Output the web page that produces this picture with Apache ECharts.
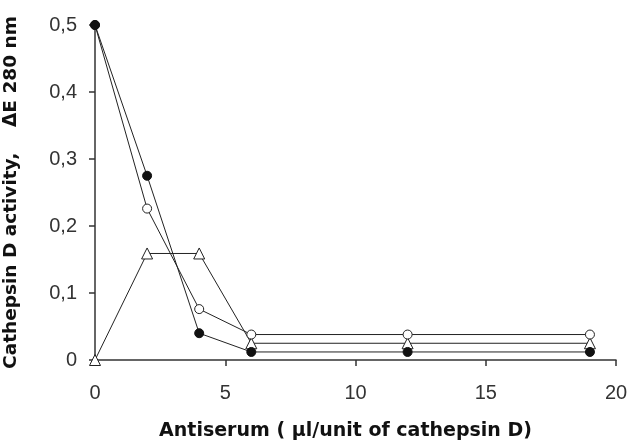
<!DOCTYPE html>
<html><head><meta charset="utf-8">
<script src="https://cdn.jsdelivr.net/npm/echarts@6/dist/echarts.min.js"></script>
<style>html,body{margin:0;padding:0;background:#fff}#c{width:628px;height:448px}</style>
</head><body><div id="c"></div>
<script>
const xValues = [0, 2, 4, 6, 12, 19];
const filledCircle = [0.5, 0.275, 0.04, 0.012, 0.012, 0.012];
const openCircle = [0.5, 0.226, 0.076, 0.038, 0.038, 0.038];
const triangle = [0, 0.159, 0.159, 0.025, 0.025, 0.025];
const xTicks = [0, 5, 10, 15, 20];
const yTicks = [0, 0.1, 0.2, 0.3, 0.4, 0.5];
const xTitle = 'Antiserum ( µl/unit of cathepsin D)';
const yTitle = 'Cathepsin D activity,    ΔE 280 nm';

const pairs = a => xValues.map((x, i) => [x, a[i]]);
const fmt = v => v === 0 ? '0' : String(Math.round(v * 10) / 10).replace('.', ',');
const axisCol = '#333';
const chart = echarts.init(document.getElementById('c'), null, {renderer: 'canvas'});
const lineStyle = {color: '#222', width: 1};
chart.setOption({
  animation: false,
  backgroundColor: '#fff',
  grid: {left: 95, right: 12, top: 25, bottom: 88, containLabel: false, outerBoundsMode: 'none'},
  xAxis: {
    type: 'value', min: xTicks[0], max: xTicks[xTicks.length - 1], interval: 5,
    axisLine: {lineStyle: {color: axisCol, width: 1.5}},
    axisTick: {show: true, length: 6, lineStyle: {color: axisCol, width: 1.5}},
    splitLine: {show: false},
    axisLabel: {fontFamily: 'Liberation Sans', fontSize: 20, color: '#333', margin: 23},
    name: xTitle, nameLocation: 'middle', nameGap: 62,
    nameTextStyle: {fontFamily: 'DejaVu Sans', fontWeight: 'bold', fontSize: 19, color: '#111', padding: [0, 20, 0, 0]}
  },
  yAxis: {
    type: 'value', min: yTicks[0], max: yTicks[yTicks.length - 1], interval: 0.1,
    axisLine: {show: true, lineStyle: {color: axisCol, width: 1.5}},
    axisTick: {show: true, length: 6, lineStyle: {color: axisCol, width: 1.5}},
    splitLine: {show: false},
    axisLabel: {fontFamily: 'Liberation Sans', fontSize: 20, color: '#333', margin: 18, formatter: fmt},
    name: yTitle, nameLocation: 'middle', nameGap: 74, nameRotate: 90,
    nameTextStyle: {fontFamily: 'DejaVu Sans', fontWeight: 'bold', fontSize: 18.5, color: '#111'}
  },
  series: [
    {type: 'line', data: pairs(triangle), symbol: 'triangle', symbolSize: 11,
     lineStyle, itemStyle: {color: '#fff', borderColor: '#222', borderWidth: 1}, z: 2},
    {type: 'line', data: pairs(openCircle), symbol: 'circle', symbolSize: 9,
     lineStyle, itemStyle: {color: '#fff', borderColor: '#222', borderWidth: 1}, z: 3},
    {type: 'line', data: pairs(filledCircle), symbol: 'circle', symbolSize: 9,
     lineStyle, itemStyle: {color: '#111', borderColor: '#111', borderWidth: 1}, z: 4}
  ]
});
</script></body></html>
